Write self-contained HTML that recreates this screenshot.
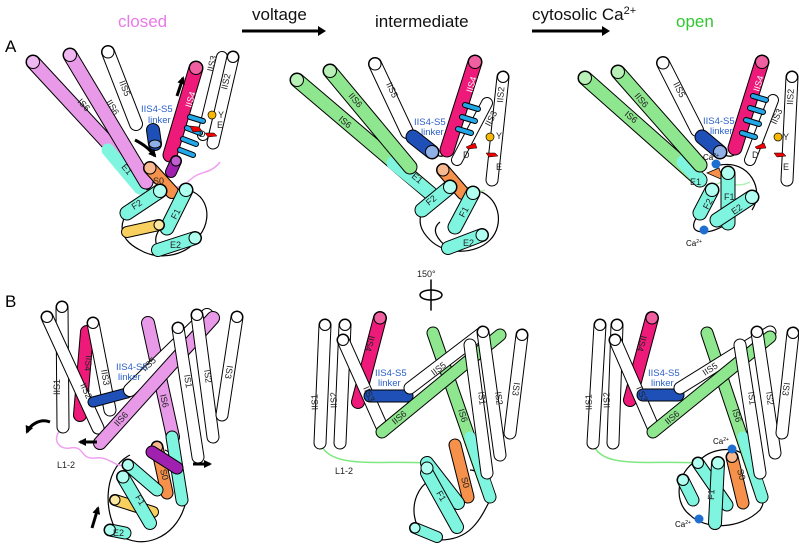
<!DOCTYPE html>
<html><head><meta charset="utf-8"><style>
html,body{margin:0;padding:0;background:#fff}
svg{display:block}
line{stroke-linecap:round}
.o{stroke:#000}
text{font-family:"Liberation Sans",sans-serif}
.l{font-size:9px;fill:#222}
.t{font-size:17px;fill:#111}
.bl{font-size:9.5px;fill:#2a5fc8}
</style></head><body>
<svg width="799" height="545" viewBox="0 0 799 545" xmlns="http://www.w3.org/2000/svg">
<defs>
<marker id="ah" markerWidth="8" markerHeight="8" refX="6" refY="4" orient="auto" markerUnits="userSpaceOnUse"><path d="M0,0 L8,4 L0,8 z" fill="#000"/></marker>
</defs>

<!-- titles -->
<text x="5" y="52" style="font-size:17px">A</text>
<text x="5" y="307" style="font-size:17px">B</text>
<text x="118" y="27" class="t" style="fill:#e87ae8">closed</text>
<text x="252" y="20" class="t">voltage</text>
<line x1="242" y1="31" x2="318" y2="31" stroke="#000" stroke-width="3" style="stroke-linecap:butt"/><path d="M318,26 L326,31 L318,36z"/>
<text x="375" y="27" class="t">intermediate</text>
<text x="532" y="20" class="t">cytosolic Ca<tspan dy="-6" style="font-size:11px">2+</tspan></text>
<line x1="532" y1="31" x2="602" y2="31" stroke="#000" stroke-width="3" style="stroke-linecap:butt"/><path d="M602,26 L610,31 L602,36z"/>
<text x="676" y="27" class="t" style="fill:#33c633">open</text>

<!-- ================= A closed ================= -->
<g fill="none" stroke="#000" stroke-width="1.2">
<path d="M175,190 C205,185 215,215 200,235 C190,255 160,262 140,250 C120,240 118,225 128,212"/>
<path d="M160,250 C150,240 160,225 165,228"/>
</g>
<path d="M158,188 C170,180 175,195 190,180 C200,170 210,175 220,162" fill="none" stroke="#f0a0f0" stroke-width="1.5"/>
<line class="o" x1="33" y1="62" x2="145" y2="183" stroke-width="15"/><line x1="33" y1="62" x2="145" y2="183" stroke="#e89ae8" stroke-width="13"/>
<line x1="108" y1="150" x2="140" y2="188" stroke="#7ff5e0" stroke-width="13"/><circle cx="33" cy="62" r="6.5" fill="#f0b8f0" stroke="#000"/>
<line class="o" x1="70" y1="55" x2="146" y2="182" stroke-width="15"/><line x1="70" y1="55" x2="146" y2="182" stroke="#e89ae8" stroke-width="13"/><circle cx="70" cy="55" r="6.5" fill="#f0b8f0" stroke="#000"/>
<line class="o" x1="108" y1="52" x2="136" y2="124" stroke-width="14"/><line x1="108" y1="52" x2="136" y2="124" stroke="#fff" stroke-width="12"/><circle cx="108" cy="52" r="6" fill="#fff" stroke="#000"/>
<text class="l" transform="translate(77,102) rotate(47)">IS6</text>
<text class="l" transform="translate(106,102) rotate(59)">IIS6</text>
<text class="l" transform="translate(119,82) rotate(68)">IIS5</text>
<text class="l" transform="translate(121,167) rotate(50)">E1</text>
<text class="bl" x="141" y="112">IIS4-S5</text><text class="bl" x="148" y="123">linker</text>
<line class="o" x1="153" y1="130" x2="155" y2="144" stroke-width="14"/><line x1="153" y1="130" x2="155" y2="144" stroke="#1f50b8" stroke-width="12"/><ellipse cx="155" cy="144" rx="6" ry="4" fill="#90b0e8" stroke="#000"/>
<path d="M135,140 C145,145 150,150 155,156" fill="none" stroke="#000" stroke-width="3" marker-end="url(#ah)"/>
<line class="o" x1="222" y1="57" x2="203" y2="135" stroke-width="12"/><line x1="222" y1="57" x2="203" y2="135" stroke="#fff" stroke-width="10"/>
<line class="o" x1="233" y1="57" x2="213" y2="143" stroke-width="13"/><line x1="233" y1="57" x2="213" y2="143" stroke="#fff" stroke-width="11"/><circle cx="233" cy="57" r="5.5" fill="#fff" stroke="#000"/>
<text class="l" transform="translate(213,72) rotate(-77)">IIS3</text>
<text class="l" transform="translate(227,90) rotate(-77)">IIS2</text>
<line class="o" x1="196" y1="68" x2="170" y2="155" stroke-width="15"/><line x1="196" y1="68" x2="170" y2="155" stroke="#ee1a7a" stroke-width="13"/><circle cx="196" cy="68" r="6.5" fill="#f060a0" stroke="#000"/>
<text class="l" transform="translate(191,108) rotate(-73)" style="fill:#fff">IIS4</text>
<g stroke="#000" stroke-width="6"><line x1="190" y1="117" x2="203" y2="121"/><line x1="187" y1="128" x2="200" y2="133"/><line x1="183" y1="139" x2="196" y2="144"/><line x1="180" y1="150" x2="193" y2="155"/></g>
<g stroke="#22a8e8" stroke-width="4"><line x1="190" y1="117" x2="203" y2="121"/><line x1="187" y1="128" x2="200" y2="133"/><line x1="183" y1="139" x2="196" y2="144"/><line x1="180" y1="150" x2="193" y2="155"/></g>
<circle cx="212" cy="115" r="4" fill="#f8b800" stroke="#000" stroke-width=".7"/><text class="l" x="218" y="118">Y</text>
<path d="M190,126 l9,1 l3,4 l-9,1z" fill="#e00" stroke="#000" stroke-width=".5"/><path d="M205,133 l9,0 l3,3 l-9,1z" fill="#e00" stroke="#000" stroke-width=".5"/>
<text class="l" x="199" y="137">D</text><text class="l" x="217" y="128">E</text>
<path d="M177,96 L183,78" stroke="#000" stroke-width="3" marker-end="url(#ah)"/>
<line class="o" x1="176" y1="161" x2="171" y2="172" stroke-width="12"/><line x1="176" y1="161" x2="171" y2="172" stroke="#a020b0" stroke-width="10"/><circle cx="176" cy="161" r="5" fill="#c060d0" stroke="#000"/>
<line class="o" x1="150" y1="168" x2="172" y2="192" stroke-width="14"/><line x1="150" y1="168" x2="172" y2="192" stroke="#f5914a" stroke-width="12"/><circle cx="150" cy="168" r="6" fill="#f8b890" stroke="#000"/>
<line class="o" x1="127" y1="213" x2="160" y2="191" stroke-width="15"/><line x1="127" y1="213" x2="160" y2="191" stroke="#7ff5e0" stroke-width="13"/><circle cx="160" cy="191" r="6.5" fill="#b0fff0" stroke="#000"/>
<line class="o" x1="186" y1="190" x2="167" y2="228" stroke-width="15"/><line x1="186" y1="190" x2="167" y2="228" stroke="#7ff5e0" stroke-width="13"/><circle cx="186" cy="190" r="6.5" fill="#b0fff0" stroke="#000"/>
<line class="o" x1="127" y1="232" x2="159" y2="225" stroke-width="12"/><line x1="127" y1="232" x2="159" y2="225" stroke="#f8d060" stroke-width="10"/><circle cx="159" cy="225" r="5" fill="#fbe8a0" stroke="#000"/>
<line class="o" x1="158" y1="250" x2="195" y2="238" stroke-width="14"/><line x1="158" y1="250" x2="195" y2="238" stroke="#7ff5e0" stroke-width="12"/><circle cx="195" cy="238" r="6" fill="#b0fff0" stroke="#000"/>
<text class="l" transform="translate(134,210) rotate(-33)">F2</text><text class="l" transform="translate(176,220) rotate(-63)">F1</text><text class="l" x="170" y="248">E2</text><text class="l" x="153" y="184">S0</text>

<!-- ================= A intermediate ================= -->
<g fill="none" stroke="#000" stroke-width="1.2">
<path d="M475,190 C500,195 505,225 490,240 C475,255 445,255 430,240 C420,230 418,222 422,210"/>
<path d="M448,248 C438,240 430,230 440,222"/>
<path d="M432,152 C440,158 445,158 447,150"/>
</g>
<path d="M455,190 C465,180 475,195 485,190" fill="none" stroke="#b0f0b0" stroke-width="1.5"/>
<line class="o" x1="297" y1="80" x2="430" y2="193" stroke-width="15"/><line x1="297" y1="80" x2="430" y2="193" stroke="#8ee68e" stroke-width="13"/>
<line x1="393" y1="163" x2="430" y2="193" stroke="#7ff5e0" stroke-width="13"/><circle cx="297" cy="80" r="6.5" fill="#b8f0b8" stroke="#000"/>
<line class="o" x1="330" y1="71" x2="410" y2="167" stroke-width="15"/><line x1="330" y1="71" x2="410" y2="167" stroke="#8ee68e" stroke-width="13"/><circle cx="330" cy="71" r="6.5" fill="#b8f0b8" stroke="#000"/>
<line class="o" x1="375" y1="64" x2="407" y2="132" stroke-width="14"/><line x1="375" y1="64" x2="407" y2="132" stroke="#fff" stroke-width="12"/><circle cx="375" cy="64" r="6" fill="#fff" stroke="#000"/>
<text class="l" transform="translate(338,120) rotate(40)">IS6</text><text class="l" transform="translate(348,96) rotate(50)">IIS6</text><text class="l" transform="translate(386,84) rotate(65)">IIS5</text><text class="l" transform="translate(411,177) rotate(40)">E1</text>
<text class="bl" x="414" y="125">IIS4-S5</text><text class="bl" x="421" y="135">linker</text>
<line class="o" x1="413" y1="137" x2="432" y2="152" stroke-width="15"/><line x1="413" y1="137" x2="432" y2="152" stroke="#1f50b8" stroke-width="13"/><circle cx="432" cy="152" r="6.5" fill="#90b0e8" stroke="#000"/>
<line class="o" x1="487" y1="103" x2="457" y2="160" stroke-width="12"/><line x1="487" y1="103" x2="457" y2="160" stroke="#fff" stroke-width="10"/>
<line class="o" x1="503" y1="77" x2="492" y2="180" stroke-width="13"/><line x1="503" y1="77" x2="492" y2="180" stroke="#fff" stroke-width="11"/><circle cx="503" cy="77" r="5.5" fill="#fff" stroke="#000"/>
<text class="l" transform="translate(503,103) rotate(-85)">IIS2</text><text class="l" transform="translate(490,127) rotate(-62)">IIS3</text>
<line class="o" x1="475" y1="62" x2="447" y2="150" stroke-width="15"/><line x1="475" y1="62" x2="447" y2="150" stroke="#ee1a7a" stroke-width="13"/><circle cx="475" cy="62" r="6.5" fill="#f060a0" stroke="#000"/>
<text class="l" transform="translate(472,93) rotate(-73)" style="fill:#fff">IIS4</text>
<g stroke="#000" stroke-width="6"><line x1="465" y1="105" x2="478" y2="109"/><line x1="462" y1="117" x2="475" y2="121"/><line x1="458" y1="129" x2="471" y2="133"/></g>
<g stroke="#22a8e8" stroke-width="4"><line x1="465" y1="105" x2="478" y2="109"/><line x1="462" y1="117" x2="475" y2="121"/><line x1="458" y1="129" x2="471" y2="133"/></g>
<circle cx="490" cy="137" r="4" fill="#f8b800" stroke="#000" stroke-width=".7"/><text class="l" x="496" y="139">Y</text>
<path d="M466,147 l9,-4 l2,5 l-9,1z" fill="#e00" stroke="#000" stroke-width=".5"/><path d="M486,153 l9,0 l3,3 l-9,1z" fill="#e00" stroke="#000" stroke-width=".5"/>
<text class="l" x="463" y="158">D</text><text class="l" x="496" y="170">E</text>
<line class="o" x1="443" y1="170" x2="463" y2="193" stroke-width="14"/><line x1="443" y1="170" x2="463" y2="193" stroke="#f5914a" stroke-width="12"/><circle cx="443" cy="170" r="6" fill="#f8b890" stroke="#000"/>
<line class="o" x1="422" y1="210" x2="450" y2="187" stroke-width="15"/><line x1="422" y1="210" x2="450" y2="187" stroke="#7ff5e0" stroke-width="13"/><circle cx="450" cy="187" r="6.5" fill="#b0fff0" stroke="#000"/>
<line class="o" x1="473" y1="193" x2="455" y2="227" stroke-width="15"/><line x1="473" y1="193" x2="455" y2="227" stroke="#7ff5e0" stroke-width="13"/><circle cx="473" cy="193" r="6.5" fill="#b0fff0" stroke="#000"/>
<line class="o" x1="448" y1="248" x2="482" y2="235" stroke-width="14"/><line x1="448" y1="248" x2="482" y2="235" stroke="#7ff5e0" stroke-width="12"/><circle cx="482" cy="235" r="6" fill="#b0fff0" stroke="#000"/>
<text class="l" transform="translate(429,206) rotate(-40)">F2</text><text class="l" transform="translate(464,218) rotate(-62)">F1</text><text class="l" x="463" y="246">E2</text>
<text class="l" x="417" y="277">150°</text>
<line x1="431" y1="280" x2="431" y2="310" stroke="#000" stroke-width="1.5"/><ellipse cx="431" cy="295" rx="11" ry="5" fill="none" stroke="#000" stroke-width="1.5"/>

<!-- ================= A open ================= -->
<g fill="none" stroke="#000" stroke-width="1.2">
<path d="M720,165 C750,160 765,190 752,210"/>
<path d="M700,213 C690,225 692,232 704,232 C715,232 725,225 728,223"/>
<path d="M720,152 C728,158 735,158 737,150"/>
</g>
<path d="M715,185 C725,178 735,190 750,182" fill="none" stroke="#b0f0b0" stroke-width="1.5"/>
<line class="o" x1="585" y1="78" x2="700" y2="180" stroke-width="15"/><line x1="585" y1="78" x2="700" y2="180" stroke="#8ee68e" stroke-width="13"/>
<line x1="683" y1="162" x2="700" y2="180" stroke="#7ff5e0" stroke-width="13"/><circle cx="585" cy="78" r="6.5" fill="#b8f0b8" stroke="#000"/>
<line class="o" x1="618" y1="72" x2="700" y2="165" stroke-width="15"/><line x1="618" y1="72" x2="700" y2="165" stroke="#8ee68e" stroke-width="13"/><circle cx="618" cy="72" r="6.5" fill="#b8f0b8" stroke="#000"/>
<line class="o" x1="663" y1="63" x2="697" y2="130" stroke-width="14"/><line x1="663" y1="63" x2="697" y2="130" stroke="#fff" stroke-width="12"/><circle cx="663" cy="63" r="6" fill="#fff" stroke="#000"/>
<text class="l" transform="translate(624,115) rotate(40)">IS6</text><text class="l" transform="translate(634,96) rotate(50)">IIS6</text><text class="l" transform="translate(673,84) rotate(63)">IIS5</text>
<text class="bl" x="703" y="124">IIS4-S5</text><text class="bl" x="710" y="134">linker</text>
<line class="o" x1="702" y1="137" x2="720" y2="152" stroke-width="15"/><line x1="702" y1="137" x2="720" y2="152" stroke="#1f50b8" stroke-width="13"/><circle cx="720" cy="152" r="6.5" fill="#90b0e8" stroke="#000"/>
<line class="o" x1="773" y1="100" x2="750" y2="160" stroke-width="12"/><line x1="773" y1="100" x2="750" y2="160" stroke="#fff" stroke-width="10"/>
<line class="o" x1="792" y1="77" x2="787" y2="180" stroke-width="13"/><line x1="792" y1="77" x2="787" y2="180" stroke="#fff" stroke-width="11"/><circle cx="792" cy="77" r="5.5" fill="#fff" stroke="#000"/>
<text class="l" transform="translate(793,105) rotate(-87)">IIS2</text><text class="l" transform="translate(776,125) rotate(-65)">IIS3</text>
<line class="o" x1="762" y1="62" x2="735" y2="148" stroke-width="15"/><line x1="762" y1="62" x2="735" y2="148" stroke="#ee1a7a" stroke-width="13"/><circle cx="762" cy="62" r="6.5" fill="#f060a0" stroke="#000"/>
<text class="l" transform="translate(759,92) rotate(-73)" style="fill:#fff">IIS4</text>
<g stroke="#000" stroke-width="6"><line x1="753" y1="96" x2="766" y2="100"/><line x1="750" y1="108" x2="763" y2="112"/><line x1="746" y1="120" x2="759" y2="124"/><line x1="742" y1="133" x2="755" y2="137"/></g>
<g stroke="#22a8e8" stroke-width="4"><line x1="753" y1="96" x2="766" y2="100"/><line x1="750" y1="108" x2="763" y2="112"/><line x1="746" y1="120" x2="759" y2="124"/><line x1="742" y1="133" x2="755" y2="137"/></g>
<circle cx="778" cy="137" r="4" fill="#f8b800" stroke="#000" stroke-width=".7"/><text class="l" x="783" y="140">Y</text>
<path d="M755,147 l9,-4 l2,5 l-9,1z" fill="#e00" stroke="#000" stroke-width=".5"/><path d="M774,153 l9,0 l3,3 l-9,1z" fill="#e00" stroke="#000" stroke-width=".5"/>
<text class="l" x="752" y="158">D</text><text class="l" x="783" y="170">E</text>
<path d="M707,173 l12,-5 l4,12 z" fill="#f5914a" stroke="#000" stroke-width=".7"/>
<line class="o" x1="700" y1="213" x2="712" y2="190" stroke-width="15"/><line x1="700" y1="213" x2="712" y2="190" stroke="#7ff5e0" stroke-width="13"/><circle cx="712" cy="190" r="6.5" fill="#b0fff0" stroke="#000"/>
<line class="o" x1="728" y1="173" x2="728" y2="223" stroke-width="15"/><line x1="728" y1="173" x2="728" y2="223" stroke="#7ff5e0" stroke-width="13"/><circle cx="728" cy="173" r="6.5" fill="#b0fff0" stroke="#000"/>
<line class="o" x1="717" y1="220" x2="752" y2="197" stroke-width="15"/><line x1="717" y1="220" x2="752" y2="197" stroke="#7ff5e0" stroke-width="13"/><circle cx="752" cy="197" r="6.5" fill="#b0fff0" stroke="#000"/>
<text class="l" transform="translate(708,210) rotate(-62)">F2</text><text class="l" x="724" y="200">F1</text><text class="l" transform="translate(734,215) rotate(-35)">E2</text><text class="l" x="690" y="185">E1</text>
<circle cx="716" cy="164" r="4.5" fill="#1f6fd0"/><text x="703" y="160" style="font-size:8px">Ca<tspan dy="-3" style="font-size:5px">2+</tspan></text>
<circle cx="704" cy="230" r="4.5" fill="#1f6fd0"/><text x="686" y="246" style="font-size:8px">Ca<tspan dy="-3" style="font-size:5px">2+</tspan></text>

<!-- ================= B closed ================= -->
<g fill="none" stroke="#000" stroke-width="1.2">
<path d="M130,455 C100,470 105,520 120,535 C140,550 175,540 185,505 C188,480 178,455 165,450"/>
</g>
<path d="M62,428 C50,440 60,450 70,448 C85,445 80,460 95,458 C110,456 115,468 125,465" fill="none" stroke="#f0a0f0" stroke-width="1.5"/>
<line class="o" x1="87" y1="332" x2="80" y2="415" stroke-width="14"/><line x1="87" y1="332" x2="80" y2="415" stroke="#ee1a7a" stroke-width="12"/>
<line class="o" x1="62" y1="307" x2="63" y2="427" stroke-width="13"/><line x1="62" y1="307" x2="63" y2="427" stroke="#fff" stroke-width="11"/><circle cx="62" cy="307" r="5.5" fill="#fff" stroke="#000"/>
<line class="o" x1="47" y1="317" x2="98" y2="428" stroke-width="13"/><line x1="47" y1="317" x2="98" y2="428" stroke="#fff" stroke-width="11"/><circle cx="47" cy="317" r="5.5" fill="#fff" stroke="#000"/>
<line class="o" x1="93" y1="323" x2="110" y2="410" stroke-width="13"/><line x1="93" y1="323" x2="110" y2="410" stroke="#fff" stroke-width="11"/><circle cx="93" cy="323" r="5.5" fill="#fff" stroke="#000"/>
<line class="o" x1="93" y1="402" x2="127" y2="393" stroke-width="11"/><line x1="93" y1="402" x2="127" y2="393" stroke="#1f50b8" stroke-width="9"/>
<line class="o" x1="148" y1="323" x2="173" y2="437" stroke-width="14"/><line x1="148" y1="323" x2="173" y2="437" stroke="#e89ae8" stroke-width="12"/>
<line class="o" x1="130" y1="390" x2="207" y2="315" stroke-width="14"/><line x1="130" y1="390" x2="207" y2="315" stroke="#fff" stroke-width="12"/>
<line class="o" x1="100" y1="443" x2="213" y2="318" stroke-width="14"/><line x1="100" y1="443" x2="213" y2="318" stroke="#e89ae8" stroke-width="12"/>
<line class="o" x1="178" y1="328" x2="198" y2="457" stroke-width="13"/><line x1="178" y1="328" x2="198" y2="457" stroke="#fff" stroke-width="11"/><circle cx="178" cy="328" r="5.5" fill="#fff" stroke="#000"/>
<line class="o" x1="197" y1="315" x2="213" y2="437" stroke-width="13"/><line x1="197" y1="315" x2="213" y2="437" stroke="#fff" stroke-width="11"/><circle cx="197" cy="315" r="5.5" fill="#fff" stroke="#000"/>
<line class="o" x1="237" y1="317" x2="222" y2="415" stroke-width="13"/><line x1="237" y1="317" x2="222" y2="415" stroke="#fff" stroke-width="11"/><circle cx="237" cy="317" r="5.5" fill="#fff" stroke="#000"/>
<text class="l" transform="translate(60,395) rotate(-90)">IIS1</text><text class="l" transform="translate(80,385) rotate(65)">IIS2</text><text class="l" transform="translate(86,355) rotate(95)">IIS4</text><text class="l" transform="translate(101,370) rotate(80)">IIS3</text>
<text class="l" transform="translate(145,372) rotate(-43)">IIS5</text><text class="l" transform="translate(118,427) rotate(-48)">IIS6</text><text class="l" transform="translate(160,395) rotate(77)">IS6</text>
<text class="l" transform="translate(184,375) rotate(81)">IS1</text><text class="l" transform="translate(204,370) rotate(82)">IS2</text><text class="l" transform="translate(227,365) rotate(99)">IS3</text>
<text class="bl" x="116" y="370">IIS4-S5</text><text class="bl" x="118" y="380">linker</text>
<line class="o" x1="172" y1="437" x2="182" y2="500" stroke-width="13"/><line x1="172" y1="437" x2="182" y2="500" stroke="#7ff5e0" stroke-width="11"/>
<line class="o" x1="157" y1="447" x2="167" y2="493" stroke-width="13"/><line x1="157" y1="447" x2="167" y2="493" stroke="#f5914a" stroke-width="11"/><circle cx="157" cy="447" r="5.5" fill="#f8b890" stroke="#000"/>
<line class="o" x1="152" y1="452" x2="177" y2="468" stroke-width="13"/><line x1="152" y1="452" x2="177" y2="468" stroke="#a020b0" stroke-width="11"/>
<line class="o" x1="128" y1="465" x2="157" y2="490" stroke-width="13"/><line x1="128" y1="465" x2="157" y2="490" stroke="#7ff5e0" stroke-width="11"/><circle cx="128" cy="465" r="5.5" fill="#b0fff0" stroke="#000"/>
<line class="o" x1="115" y1="500" x2="153" y2="512" stroke-width="12"/><line x1="115" y1="500" x2="153" y2="512" stroke="#f8d060" stroke-width="10"/><circle cx="115" cy="500" r="5" fill="#fbe8a0" stroke="#000"/>
<line class="o" x1="123" y1="477" x2="150" y2="523" stroke-width="14"/><line x1="123" y1="477" x2="150" y2="523" stroke="#7ff5e0" stroke-width="12"/><circle cx="123" cy="477" r="6" fill="#b0fff0" stroke="#000"/>
<line class="o" x1="110" y1="530" x2="125" y2="533" stroke-width="13"/><line x1="110" y1="530" x2="125" y2="533" stroke="#7ff5e0" stroke-width="11"/><circle cx="110" cy="530" r="5.5" fill="#b0fff0" stroke="#000"/>
<text class="l" transform="translate(135,497) rotate(60)">F1</text><text class="l" transform="translate(160,470) rotate(75)">S0</text><text class="l" x="113" y="536">E2</text>
<text class="l" x="57" y="468">L1-2</text>
<path d="M50,422 C40,418 30,425 27,432" fill="none" stroke="#000" stroke-width="3" marker-end="url(#ah)"/>
<path d="M97,442 L80,442" stroke="#000" stroke-width="3" marker-end="url(#ah)"/>
<path d="M193,464 L210,464" stroke="#000" stroke-width="3" marker-end="url(#ah)"/>
<path d="M92,528 L98,508" stroke="#000" stroke-width="3" marker-end="url(#ah)"/>

<!-- ================= B intermediate ================= -->
<g fill="none" stroke="#000" stroke-width="1.2"><path d="M430,480 C405,495 410,540 440,540 C470,540 480,520 490,500 C495,485 480,470 470,470"/></g>
<path d="M320,443 C330,470 380,460 427,463" fill="none" stroke="#80e880" stroke-width="1.5"/>
<line class="o" x1="380" y1="318" x2="358" y2="402" stroke-width="14"/><line x1="380" y1="318" x2="358" y2="402" stroke="#ee1a7a" stroke-width="12"/><circle cx="380" cy="318" r="6" fill="#f060a0" stroke="#000"/>
<line class="o" x1="325" y1="325" x2="320" y2="443" stroke-width="13"/><line x1="325" y1="325" x2="320" y2="443" stroke="#fff" stroke-width="11"/><circle cx="325" cy="325" r="5.5" fill="#fff" stroke="#000"/>
<line class="o" x1="345" y1="325" x2="340" y2="443" stroke-width="13"/><line x1="345" y1="325" x2="340" y2="443" stroke="#fff" stroke-width="11"/><circle cx="345" cy="325" r="5.5" fill="#fff" stroke="#000"/>
<line class="o" x1="343" y1="340" x2="382" y2="427" stroke-width="13"/><line x1="343" y1="340" x2="382" y2="427" stroke="#fff" stroke-width="11"/><circle cx="343" cy="340" r="5.5" fill="#fff" stroke="#000"/>
<line class="o" x1="370" y1="396" x2="407" y2="396" stroke-width="13"/><line x1="370" y1="396" x2="407" y2="396" stroke="#1f50b8" stroke-width="11"/>
<line class="o" x1="433" y1="333" x2="490" y2="497" stroke-width="13"/><line x1="433" y1="333" x2="490" y2="497" stroke="#8ee68e" stroke-width="11"/><line x1="470" y1="437" x2="490" y2="497" stroke="#7ff5e0" stroke-width="11"/>
<line class="o" x1="410" y1="388" x2="482" y2="333" stroke-width="13"/><line x1="410" y1="388" x2="482" y2="333" stroke="#fff" stroke-width="11"/>
<line class="o" x1="382" y1="432" x2="500" y2="335" stroke-width="13"/><line x1="382" y1="432" x2="500" y2="335" stroke="#8ee68e" stroke-width="11"/>
<line class="o" x1="470" y1="345" x2="487" y2="473" stroke-width="13"/><line x1="470" y1="345" x2="487" y2="473" stroke="#fff" stroke-width="11"/>
<line class="o" x1="483" y1="332" x2="500" y2="455" stroke-width="13"/><line x1="483" y1="332" x2="500" y2="455" stroke="#fff" stroke-width="11"/><circle cx="483" cy="332" r="5.5" fill="#fff" stroke="#000"/>
<line class="o" x1="522" y1="335" x2="510" y2="433" stroke-width="13"/><line x1="522" y1="335" x2="510" y2="433" stroke="#fff" stroke-width="11"/><circle cx="522" cy="335" r="5.5" fill="#fff" stroke="#000"/>
<text class="l" transform="translate(318,410) rotate(-92)">IIS1</text><text class="l" transform="translate(337,408) rotate(-92)">IIS2</text><text class="l" transform="translate(369,335) rotate(105)">IIS4</text><text class="l" transform="translate(363,388) rotate(66)">IIS3</text>
<text class="l" transform="translate(434,376) rotate(-37)">IIS5</text><text class="l" transform="translate(395,425) rotate(-40)">IIS6</text><text class="l" transform="translate(458,410) rotate(72)">IS6</text>
<text class="l" transform="translate(478,392) rotate(82)">IS1</text><text class="l" transform="translate(495,392) rotate(82)">IS2</text><text class="l" transform="translate(514,382) rotate(98)">IS3</text>
<text class="bl" x="375" y="376">IIS4-S5</text><text class="bl" x="378" y="386">linker</text>
<line class="o" x1="455" y1="445" x2="468" y2="497" stroke-width="13"/><line x1="455" y1="445" x2="468" y2="497" stroke="#f5914a" stroke-width="11"/>
<line class="o" x1="427" y1="463" x2="458" y2="503" stroke-width="14"/><line x1="427" y1="463" x2="458" y2="503" stroke="#7ff5e0" stroke-width="12"/>
<line class="o" x1="427" y1="473" x2="457" y2="527" stroke-width="14"/><line x1="427" y1="473" x2="457" y2="527" stroke="#7ff5e0" stroke-width="12"/><circle cx="427" cy="468" r="6" fill="#b0fff0" stroke="#000"/>
<line class="o" x1="415" y1="528" x2="437" y2="537" stroke-width="12"/><line x1="415" y1="528" x2="437" y2="537" stroke="#7ff5e0" stroke-width="10"/><circle cx="415" cy="528" r="5" fill="#b0fff0" stroke="#000"/>
<text class="l" transform="translate(436,493) rotate(60)">F1</text><text class="l" transform="translate(461,478) rotate(75)">S0</text>
<text class="l" x="335" y="474">L1-2</text>

<!-- ================= B open ================= -->
<g fill="none" stroke="#000" stroke-width="1.2"><path d="M700,460 C680,465 670,500 690,515 C705,530 740,530 760,510 C770,495 760,470 745,455 C730,445 710,450 700,460"/></g>
<path d="M593,443 C600,470 650,460 697,463" fill="none" stroke="#80e880" stroke-width="1.5"/>
<line class="o" x1="652" y1="318" x2="630" y2="400" stroke-width="14"/><line x1="652" y1="318" x2="630" y2="400" stroke="#ee1a7a" stroke-width="12"/><circle cx="652" cy="318" r="6" fill="#f060a0" stroke="#000"/>
<line class="o" x1="600" y1="325" x2="593" y2="443" stroke-width="13"/><line x1="600" y1="325" x2="593" y2="443" stroke="#fff" stroke-width="11"/><circle cx="600" cy="325" r="5.5" fill="#fff" stroke="#000"/>
<line class="o" x1="617" y1="325" x2="613" y2="443" stroke-width="13"/><line x1="617" y1="325" x2="613" y2="443" stroke="#fff" stroke-width="11"/><circle cx="617" cy="325" r="5.5" fill="#fff" stroke="#000"/>
<line class="o" x1="615" y1="340" x2="653" y2="427" stroke-width="13"/><line x1="615" y1="340" x2="653" y2="427" stroke="#fff" stroke-width="11"/><circle cx="615" cy="340" r="5.5" fill="#fff" stroke="#000"/>
<line class="o" x1="643" y1="395" x2="678" y2="395" stroke-width="13"/><line x1="643" y1="395" x2="678" y2="395" stroke="#1f50b8" stroke-width="11"/>
<line class="o" x1="707" y1="333" x2="762" y2="497" stroke-width="13"/><line x1="707" y1="333" x2="762" y2="497" stroke="#8ee68e" stroke-width="11"/><line x1="743" y1="437" x2="762" y2="497" stroke="#7ff5e0" stroke-width="11"/>
<line class="o" x1="680" y1="388" x2="770" y2="332" stroke-width="13"/><line x1="680" y1="388" x2="770" y2="332" stroke="#fff" stroke-width="11"/>
<line class="o" x1="653" y1="432" x2="770" y2="337" stroke-width="13"/><line x1="653" y1="432" x2="770" y2="337" stroke="#8ee68e" stroke-width="11"/>
<line class="o" x1="740" y1="345" x2="760" y2="473" stroke-width="13"/><line x1="740" y1="345" x2="760" y2="473" stroke="#fff" stroke-width="11"/>
<line class="o" x1="757" y1="332" x2="775" y2="453" stroke-width="13"/><line x1="757" y1="332" x2="775" y2="453" stroke="#fff" stroke-width="11"/><circle cx="757" cy="332" r="5.5" fill="#fff" stroke="#000"/>
<line class="o" x1="793" y1="333" x2="782" y2="433" stroke-width="13"/><line x1="793" y1="333" x2="782" y2="433" stroke="#fff" stroke-width="11"/><circle cx="793" cy="333" r="5.5" fill="#fff" stroke="#000"/>
<text class="l" transform="translate(592,410) rotate(-92)">IIS1</text><text class="l" transform="translate(610,408) rotate(-92)">IIS2</text><text class="l" transform="translate(641,335) rotate(105)">IIS4</text><text class="l" transform="translate(636,388) rotate(66)">IIS3</text>
<text class="l" transform="translate(705,376) rotate(-33)">IIS5</text><text class="l" transform="translate(668,425) rotate(-40)">IIS6</text><text class="l" transform="translate(732,410) rotate(72)">IS6</text>
<text class="l" transform="translate(748,392) rotate(82)">IS1</text><text class="l" transform="translate(766,392) rotate(82)">IS2</text><text class="l" transform="translate(784,382) rotate(98)">IS3</text>
<text class="bl" x="648" y="376">IIS4-S5</text><text class="bl" x="651" y="386">linker</text>
<line class="o" x1="732" y1="457" x2="743" y2="503" stroke-width="13"/><line x1="732" y1="457" x2="743" y2="503" stroke="#f5914a" stroke-width="11"/><circle cx="732" cy="457" r="5.5" fill="#f8b890" stroke="#000"/>
<line class="o" x1="698" y1="463" x2="727" y2="505" stroke-width="13"/><line x1="698" y1="463" x2="727" y2="505" stroke="#7ff5e0" stroke-width="11"/><circle cx="698" cy="463" r="5.5" fill="#b0fff0" stroke="#000"/>
<line class="o" x1="718" y1="463" x2="715" y2="523" stroke-width="14"/><line x1="718" y1="463" x2="715" y2="523" stroke="#7ff5e0" stroke-width="12"/><circle cx="718" cy="463" r="6" fill="#b0fff0" stroke="#000"/>
<line class="o" x1="683" y1="480" x2="693" y2="500" stroke-width="13"/><line x1="683" y1="480" x2="693" y2="500" stroke="#7ff5e0" stroke-width="11"/><circle cx="683" cy="480" r="5.5" fill="#b0fff0" stroke="#000"/>
<text class="l" transform="translate(714,500) rotate(-88)">F1</text><text class="l" transform="translate(737,470) rotate(75)">S0</text>
<circle cx="732" cy="449" r="4.5" fill="#1f6fd0"/><text x="713" y="444" style="font-size:8px">Ca<tspan dy="-3" style="font-size:5px">2+</tspan></text>
<circle cx="699" cy="519" r="4.5" fill="#1f6fd0"/><text x="675" y="527" style="font-size:8px">Ca<tspan dy="-3" style="font-size:5px">2+</tspan></text>
</svg>
</body></html>
